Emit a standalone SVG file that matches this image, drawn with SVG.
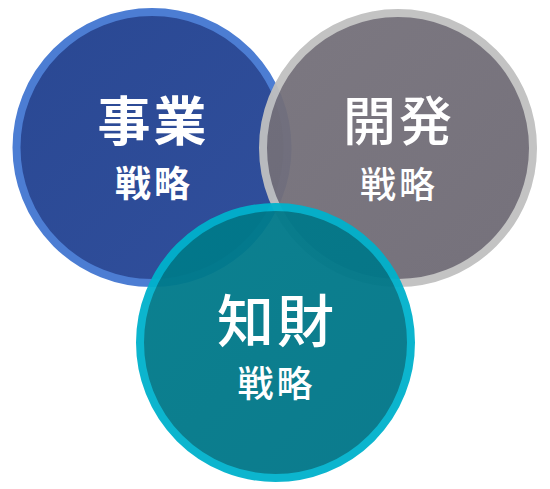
<svg xmlns="http://www.w3.org/2000/svg" width="550" height="489" viewBox="0 0 550 489">
<defs>
<linearGradient id="gBlue" x1="0" y1="0" x2="1" y2="1">
<stop offset="0" stop-color="#2a4893"/><stop offset="1" stop-color="#304f9c"/>
</linearGradient>
<linearGradient id="gGray" x1="0" y1="0" x2="1" y2="1">
<stop offset="0" stop-color="#75717b"/><stop offset="1" stop-color="#6e6a75"/>
</linearGradient>
<linearGradient id="gTeal" x1="0" y1="0" x2="1" y2="1">
<stop offset="0" stop-color="#007b8b"/><stop offset="1" stop-color="#007587"/>
</linearGradient>
</defs>
<style>
.t{font-family:"Noto Sans CJK JP","Noto Sans CJK SC",sans-serif;fill:#ffffff;text-anchor:middle}
.big{font-size:53px;letter-spacing:3px}
.small{font-size:36px;letter-spacing:3px}
.b{font-weight:700}
.m{font-weight:500}
</style>
<g id="node-jigyo">
<circle cx="152" cy="147.5" r="135.5" fill="url(#gBlue)" stroke="#4c7dd3" stroke-width="8"/>
<text class="t big b" x="153.5" y="141">事業</text>
<text class="t small b" x="154" y="197">戦略</text>
</g>
<g id="node-kaihatsu" opacity="0.95">
<circle cx="398" cy="148" r="135" fill="url(#gGray)" stroke="#c0c0c0" stroke-width="8"/>
</g>
<g id="label-kaihatsu">
<text class="t big m" x="399" y="141">開発</text>
<text class="t small m" x="399" y="198">戦略</text>
</g>
<g id="node-chizai" opacity="0.95">
<circle cx="275.5" cy="342.5" r="135.5" fill="url(#gTeal)" stroke="#00b2cc" stroke-width="8"/>
</g>
<g id="label-chizai">
<text class="t m" style="font-size:57px;letter-spacing:3px" x="277" y="342">知財</text>
<text class="t small m" x="276.5" y="397">戦略</text>
</g>
<g id="connectors"/>
</svg>
